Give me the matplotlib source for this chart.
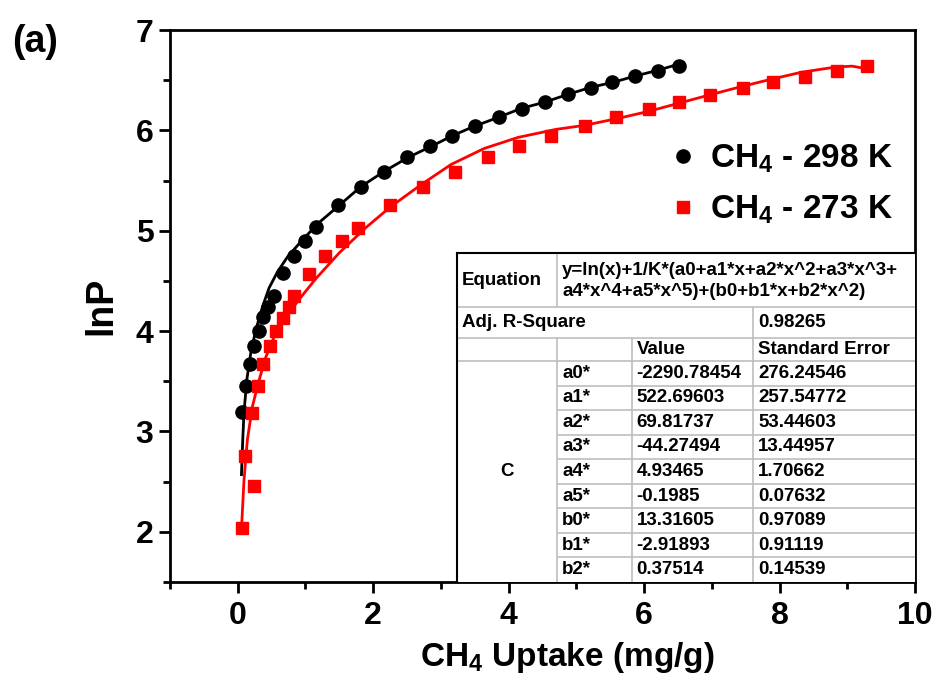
import numpy as np
import matplotlib
matplotlib.use("Agg")
import matplotlib.pyplot as plt
from matplotlib.ticker import MultipleLocator

# ── Data ──────────────────────────────────────────────────────────────────────
# CH4 at 298 K (black circles)
x298 = [0.06, 0.12, 0.18, 0.24, 0.31, 0.38, 0.44, 0.53, 0.67, 0.83, 1.00, 1.16,
        1.48, 1.82, 2.16, 2.50, 2.84, 3.17, 3.51, 3.86, 4.20, 4.53, 4.87, 5.21,
        5.53, 5.86, 6.20, 6.52]
y298 = [3.19, 3.45, 3.67, 3.85, 4.00, 4.14, 4.24, 4.35, 4.58, 4.75, 4.90, 5.04,
        5.26, 5.44, 5.59, 5.73, 5.84, 5.94, 6.04, 6.13, 6.21, 6.28, 6.36, 6.42,
        6.48, 6.54, 6.59, 6.64]

# CH4 at 273 K (red squares)
x273 = [0.06, 0.10, 0.24, 0.21, 0.30, 0.38, 0.47, 0.56, 0.67, 0.75, 0.83, 1.05,
        1.29, 1.54, 1.78, 2.25, 2.74, 3.21, 3.70, 4.16, 4.63, 5.13, 5.59, 6.07,
        6.52, 6.98, 7.46, 7.91, 8.37, 8.85, 9.29]
y273 = [2.04, 2.76, 2.46, 3.18, 3.45, 3.67, 3.85, 4.00, 4.13, 4.24, 4.35, 4.57,
        4.75, 4.90, 5.03, 5.26, 5.44, 5.59, 5.73, 5.84, 5.94, 6.04, 6.13, 6.21,
        6.28, 6.35, 6.42, 6.48, 6.53, 6.59, 6.64]

# fitted curves (traced)
fx298 = [0.055, 0.075, 0.093, 0.133, 0.192, 0.266, 0.365, 0.463, 0.587, 0.736,
         0.957, 1.198, 1.494, 1.820, 2.160, 2.515, 2.855, 3.18, 3.49, 3.85, 4.19,
         4.53, 4.88, 5.22, 5.55, 5.86, 6.21, 6.51]
fy298 = [2.57, 2.93, 3.19, 3.51, 3.78, 4.01, 4.24, 4.43, 4.59, 4.74, 4.91, 5.08,
         5.25, 5.44, 5.59, 5.73, 5.84, 5.95, 6.04, 6.13, 6.22, 6.28, 6.36, 6.43,
         6.48, 6.54, 6.60, 6.66]
fx273 = [0.06, 0.093, 0.143, 0.217, 0.315, 0.414, 0.537, 0.71, 0.90, 1.15, 1.50,
         1.89, 2.26, 2.71, 3.15, 3.64, 4.14, 4.70, 5.12, 5.62, 6.07, 6.51, 6.95,
         7.40, 7.88, 8.33, 8.82, 9.07, 9.32]
fy273 = [2.09, 2.52, 2.92, 3.25, 3.51, 3.74, 3.94, 4.14, 4.31, 4.52, 4.78, 5.03,
         5.24, 5.46, 5.66, 5.82, 5.93, 6.01, 6.05, 6.12, 6.19, 6.27, 6.35, 6.43,
         6.51, 6.58, 6.63, 6.64, 6.61]

labels = [r"CH$_4$ - 298 K", r"CH$_4$ - 273 K"]

# fit report table
equation = ["y=ln(x)+1/K*(a0+a1*x+a2*x^2+a3*x^3+", "a4*x^4+a5*x^5)+(b0+b1*x+b2*x^2)"]
adj_r2 = "0.98265"
params = ["a0*", "a1*", "a2*", "a3*", "a4*", "a5*", "b0*", "b1*", "b2*"]
values = ["-2290.78454", "522.69603", "69.81737", "-44.27494", "4.93465",
          "-0.1985", "13.31605", "-2.91893", "0.37514"]
errors = ["276.24546", "257.54772", "53.44603", "13.44957", "1.70662",
          "0.07632", "0.97089", "0.91119", "0.14539"]

# ── Style ─────────────────────────────────────────────────────────────────────
plt.rcParams.update({
    "font.family": ["Liberation Sans", "DejaVu Sans"],
    "font.weight": "bold",
    "mathtext.fontset": "custom",
    "mathtext.rm": "Liberation Sans:bold",
    "mathtext.bf": "Liberation Sans:bold",
    "mathtext.it": "Liberation Sans:bold",
    "mathtext.default": "bf",
})

W, H = 939, 684
fig = plt.figure(figsize=(W / 100, H / 100), dpi=100)
L, R, T, B = 170, 915, 30, 582
ax = fig.add_axes([L / W, 1 - B / H, (R - L) / W, (B - T) / H])

ax.plot(fx298, fy298, color="black", lw=2.0, zorder=2)
ax.plot(fx273, fy273, color="#ff0000", lw=2.0, zorder=2)
ax.plot(x298, y298, "o", color="black", ms=9.5, ls="none", label=labels[0], zorder=3)
ax.plot(x273, y273, "s", color="#ff0000", ms=8.5, ls="none", label=labels[1], zorder=3)

ax.set_xlim(-1, 10)
ax.set_ylim(1.5, 7)
ax.xaxis.set_major_locator(MultipleLocator(2))
ax.xaxis.set_minor_locator(MultipleLocator(1))
ax.yaxis.set_major_locator(MultipleLocator(1))
ax.yaxis.set_minor_locator(MultipleLocator(0.5))
for s in ax.spines.values():
    s.set_linewidth(2.0)
ax.tick_params(which="major", direction="out", length=8, width=2.0)
ax.tick_params(which="minor", direction="out", length=5, width=2.0)
ax.tick_params(axis="y", labelsize=23, pad=4)
ax.tick_params(axis="x", labelsize=23, pad=6)

ax.set_xlabel(r"CH$_4$ Uptake (mg/g)", fontsize=24, fontweight="bold", labelpad=6)
ax.xaxis.label.set_x((567 - L) / (R - L))
ax.set_ylabel("lnP", fontsize=27, fontweight="bold", labelpad=12)

leg = ax.legend(loc="center left", bbox_to_anchor=(0.666, 0.72), frameon=False,
                fontsize=24, handletextpad=0.3, labelspacing=0.55,
                handlelength=1.0, borderaxespad=0, borderpad=0)

fig.text(12 / W, 1 - 42 / H, "(a)", fontsize=27, fontweight="bold", va="center")

# ── Fit table ─────────────────────────────────────────────────────────────────
cx = [456.7, 557.3, 631.7, 753.3, R]
ry = [253.3, 307.3, 337.7, 361.0] + list(np.linspace(361.0, B, 10)[1:])
tab = fig.add_axes([cx[0] / W, 1 - B / H, (R - cx[0]) / W, (B - ry[0]) / H], zorder=5)
tab.set_xlim(cx[0], R)
tab.set_ylim(B, ry[0])
tab.set_facecolor("white")
tab.set_xticks([])
tab.set_yticks([])
for k, s in tab.spines.items():
    s.set_visible(k in ("left", "top"))
    s.set_linewidth(1.5)

GR = "#bdbdbd"
lw = 1.2
tab.hlines([ry[1], ry[2], ry[3]], cx[0], R, color=GR, lw=lw)
tab.hlines(ry[4:-1], cx[1], R, color=GR, lw=lw)
tab.vlines(cx[1], ry[0], ry[1], color=GR, lw=lw)
tab.vlines(cx[1], ry[2], B, color=GR, lw=lw)
tab.vlines(cx[2], ry[2], B, color=GR, lw=lw)
tab.vlines(cx[3], ry[1], B, color=GR, lw=lw)

fs = 13.5
tx = [c + 5 for c in cx]
tab.text(tx[0], (ry[0] + ry[1]) / 2, "Equation", fontsize=fs, va="center")
tab.text(tx[1], ry[0] + 17, equation[0], fontsize=fs, va="center")
tab.text(tx[1], ry[0] + 38.5, equation[1], fontsize=fs, va="center")
tab.text(tx[0], (ry[1] + ry[2]) / 2, "Adj. R-Square", fontsize=fs, va="center")
tab.text(tx[3], (ry[1] + ry[2]) / 2, adj_r2, fontsize=fs, va="center")
tab.text(tx[2], (ry[2] + ry[3]) / 2, "Value", fontsize=fs, va="center")
tab.text(tx[3], (ry[2] + ry[3]) / 2, "Standard Error", fontsize=fs, va="center")
tab.text((cx[0] + cx[1]) / 2, (ry[3] + B) / 2, "C", fontsize=fs, va="center", ha="center")
for i, (p, v, e) in enumerate(zip(params, values, errors)):
    yc = (ry[3 + i] + ry[4 + i]) / 2
    tab.text(tx[1], yc, p, fontsize=fs, va="center")
    tab.text(tx[2], yc, v, fontsize=fs, va="center")
    tab.text(tx[3], yc, e, fontsize=fs, va="center")

fig.savefig("out.png", dpi=100)
